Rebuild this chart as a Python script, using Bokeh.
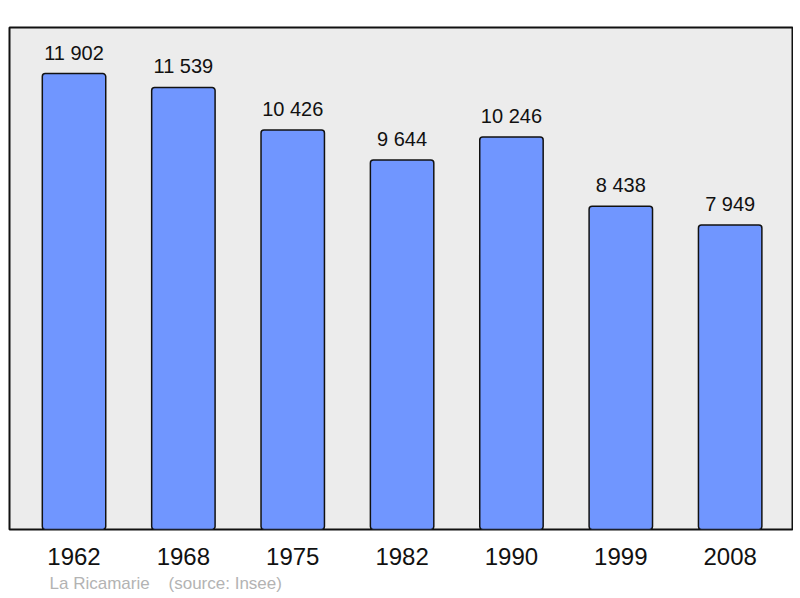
from bokeh.plotting import figure
from bokeh.models import ColumnDataSource, Range1d, FixedTicker, LabelSet, Title
from bokeh.core.properties import value
from bokeh.embed import file_html
from bokeh.resources import INLINE

years = ["1962", "1968", "1975", "1982", "1990", "1999", "2008"]
population = [11902, 11539, 10426, 9644, 10246, 8438, 7949]
value_labels = ["11 902", "11 539", "10 426", "9 644", "10 246", "8 438", "7 949"]
town = "La Ricamarie"
source_note = "(source: Insee)"

idx = list(range(len(years)))
src = ColumnDataSource(dict(x=idx, top=population, lab=value_labels))

p = figure(width=793, height=596, output_backend="svg", toolbar_location=None,
           x_range=Range1d(-0.59, 6.57), y_range=Range1d(0, 13105),
           min_border_left=9, min_border_right=1, min_border_top=27, min_border_bottom=62)

p.background_fill_color = "#ececec"
p.border_fill_color = "white"
p.outline_line_color = "#111111"
p.outline_line_width = 2
p.xgrid.visible = False
p.ygrid.visible = False
p.yaxis.visible = False

p.vbar(x="x", top="top", bottom=0, width=0.58, source=src,
       fill_color="#7096ff", line_color="#111111", line_width=1.5, border_radius=3)

labels = LabelSet(x="x", y="top", text="lab", source=src, text_align="center",
                  text_baseline="alphabetic", y_offset=14, text_font=value("Liberation Sans"),
                  text_font_size="20px", text_color="#111111")
p.add_layout(labels)

ax = p.xaxis[0]
ax.ticker = FixedTicker(ticks=idx)
ax.major_label_overrides = {i: y for i, y in zip(idx, years)}
ax.axis_line_color = None
ax.major_tick_line_color = None
ax.minor_tick_line_color = None
ax.major_label_standoff = 12
ax.major_label_text_font = "Liberation Sans"
ax.major_label_text_font_size = "24px"
ax.major_label_text_color = "#111111"

footer = Title(text=town + "\u00a0\u00a0\u00a0\u00a0" + source_note, align="left",
               text_color="#b3b3b3", text_font="Liberation Sans", text_font_size="17px",
               text_font_style="normal", offset=40, standoff=8)
p.add_layout(footer, "below")

open("out.html", "w").write(file_html(p, INLINE))
